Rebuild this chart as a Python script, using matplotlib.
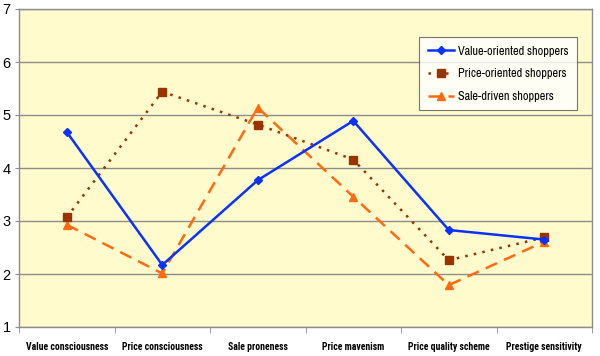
import matplotlib
matplotlib.use("Agg")
import matplotlib.pyplot as plt
import numpy as np

categories = ["Value consciousness", "Price consciousness", "Sale proneness",
              "Price mavenism", "Price quality scheme", "Prestige sensitivity"]
value_oriented = [4.68, 2.17, 3.77, 4.89, 2.83, 2.65]
price_oriented = [3.07, 5.44, 4.82, 4.16, 2.26, 2.69]
sale_driven = [2.93, 2.01, 5.14, 3.46, 1.79, 2.61]
y_ticks = [1, 2, 3, 4, 5, 6, 7]

narrow = ["Arial Narrow", "Liberation Sans Narrow", "Archivo Narrow", "DejaVu Sans"]
narrow_bold = ["Arial Narrow", "Liberation Sans Narrow", "Roboto Condensed",
               "Fira Sans Condensed", "Archivo Narrow", "DejaVu Sans"]

fig = plt.figure(figsize=(6.0, 3.56), dpi=100)
ax = fig.add_axes([19/600, 1-327/356, 573/600, 318/356])
ax.set_facecolor("#FFFBCC")

x = np.arange(len(categories))
ax.plot(x, value_oriented, color="#0A32FF", lw=1.8, marker="D", ms=4.5,
        label="Value-oriented shoppers", zorder=5)
ax.plot(x, price_oriented, color="#993300", lw=1.8, ls=(0, (1, 2.5)), marker="s", ms=6,
        label="Price-oriented shoppers", zorder=4)
ax.plot(x, sale_driven, color="#FF6A10", lw=1.8, ls=(0, (5, 3)), marker="^", ms=6,
        label="Sale-driven shoppers", zorder=3)

ax.set_xlim(-0.5, len(categories) - 0.5)
ax.set_ylim(1, 7)
ax.set_yticks(y_ticks)
ax.yaxis.grid(True, color="#8C8C8C", lw=1)
ax.set_axisbelow(True)
ax.set_xticks(x)
ax.set_xticklabels(categories, fontsize=7.0, fontweight="bold", family=narrow_bold)
ax.tick_params(axis="x", length=0, pad=11)
ax.set_xticks(np.arange(len(categories) + 1) - 0.5, minor=True)
ax.tick_params(axis="x", which="minor", length=4, color="#8C8C8C")
ax.tick_params(axis="y", length=3, color="#8C8C8C", labelsize=10.5, pad=3)
for lbl in ax.get_yticklabels():
    lbl.set_family("Liberation Sans")
for s in ax.spines.values():
    s.set_color("#8C8C8C")
    s.set_linewidth(1)

leg = ax.legend(loc="upper left", bbox_to_anchor=(419/600, 1-37/356),
                bbox_transform=fig.transFigure, borderaxespad=0,
                prop={"family": narrow, "size": 8.8},
                frameon=True, fancybox=False, edgecolor="#555555", facecolor="white",
                handlelength=2.2, borderpad=0.7, labelspacing=0.95, handletextpad=0.3)
leg.get_frame().set_linewidth(0.8)

fig.savefig("out.png", dpi=100)
